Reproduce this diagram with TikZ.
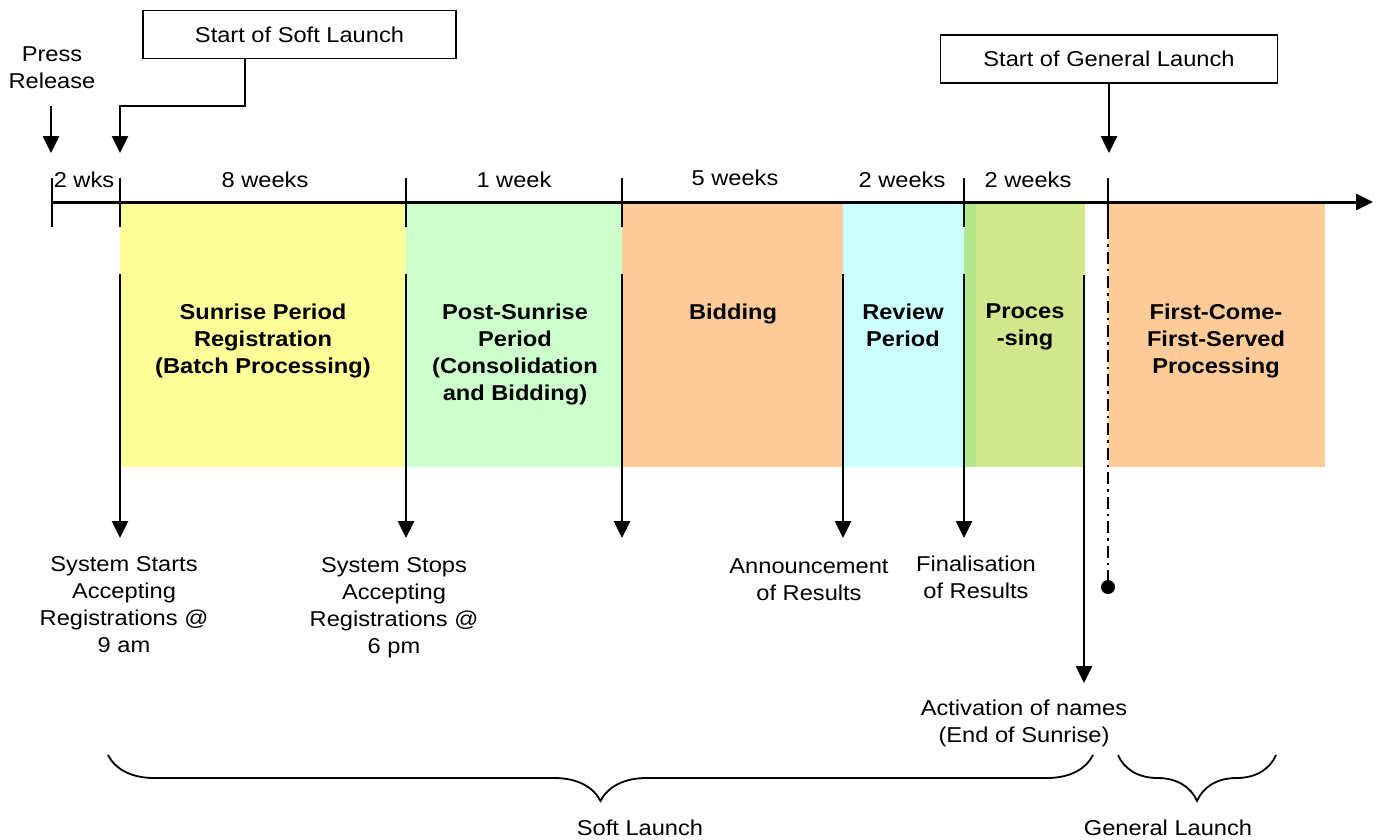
\documentclass[tikz,border=0pt]{standalone}
\usepackage{fontspec}
\setmainfont{Liberation Sans}[FakeStretch=1.1]
\usepackage{tikz}
\usetikzlibrary{arrows.meta,decorations.pathreplacing}

\definecolor{sunrisecol}{HTML}{FFFF99}
\definecolor{postcol}{HTML}{CCFFCC}
\definecolor{bidcol}{HTML}{FFCC99}
\definecolor{reviewcol}{HTML}{CCFFFF}
\definecolor{stripcol}{HTML}{B4E68C}
\definecolor{proccol}{HTML}{D2E68C}

\begin{document}
\begin{tikzpicture}[x=1pt, y=-1pt,
		every node/.style={font=\fontsize{21.5}{27}\selectfont, align=center, inner sep=0pt},
		phase/.style={font=\fontsize{21.5}{27}\selectfont\bfseries},
		tip/.style={-{Triangle[width=16pt,length=17pt]}, line width=2.6pt},
		tick/.style={line width=2.2pt},
		launchbox/.style={draw, line width=1.8pt, minimum height=48pt},
		launchbrace/.style={decorate, decoration={brace, mirror, amplitude=46pt}, line width=1.8pt}]
		    \begin{scope}
					\useasboundingbox (0,0) rectangle (1381,839);

					% periods
					\fill[sunrisecol] (120,202) rectangle (406,467);
					\fill[postcol] (406,202) rectangle (622,467);
					\fill[bidcol] (622,202) rectangle (843,467);
					\fill[reviewcol] (843,202) rectangle (964,467);
					\fill[stripcol] (964,202) rectangle (976,467);
					\fill[proccol] (976,202) rectangle (1085,467);
					\fill[bidcol] (1108,202) rectangle (1325,467);

					% time axis
					\coordinate (t0) at (52,202);
					\coordinate (tend) at (1373,202);
					\draw[-{Triangle[width=16pt,length=17pt]}, line width=3pt] (t0) -- (tend);
					\foreach \x/\n in {52/a, 120/b, 406/c, 622/d, 964/e, 1108/f} {
						\coordinate (tk\n1) at (\x,178);
						\coordinate (tk\n2) at (\x,227);
						\draw[tick] (tk\n1) -- (tk\n2);
					}

					\node (wk1) at (84,180) {2 wks};
					\node (wk2) at (265,180) {8 weeks};
					\node (wk3) at (514,180) {1 week};
					\node (wk4) at (735,178) {5 weeks};
					\node (wk5) at (902,180) {2 weeks};
					\node (wk6) at (1028,180) {2 weeks};

					% top markers
					\node (press) at (52,68) {Press\\Release};
					\coordinate (pr1) at (51,106);
					\coordinate (pr2) at (51,153);
					\draw[tip] (pr1) -- (pr2); % press release

					\node[launchbox, minimum width=313pt] (softbox) at (299.5,34.5) {Start of Soft Launch};
					\coordinate (sl1) at (245,59);
					\coordinate (sl2) at (245,106);
					\coordinate (sl3) at (120,153);
					\draw[tip] (sl1) -- (sl2) -| (sl3); % soft launch

					\node[launchbox, minimum width=337pt] (genbox) at (1109,59) {Start of General Launch};
					\coordinate (gl1) at (1109,153);
					\draw[tip] (genbox.south) -- (gl1); % general launch

					% phase names
					\node[phase] (sunrise) at (263,341) {Sunrise Period\\Registration\\(Batch Processing)};
					\node[phase] (post) at (515,354.5) {Post-Sunrise\\Period\\(Consolidation\\and Bidding)};
					\node[phase] (bid) at (733,314) {Bidding};
					\node[phase] (review) at (903,325) {Review\\Period};
					\node[phase] (proc) at (1025,327) {Proces\\-sing};
					\node[phase] (fcfs) at (1216,341) {First-Come-\\First-Served\\Processing};

					% events below
					\foreach \x/\n in {120/1, 406/2, 622/3, 843/4, 964/5} {
						\coordinate (dn\n) at (\x,274);
						\coordinate (dt\n) at (\x,538);
						\draw[tip] (dn\n) -- (dt\n);
					}
					\coordinate (dn6) at (1084,275);
					\coordinate (dt6) at (1084,683);
					\draw[tip] (dn6) -- (dt6); % activation

					\node[circle, fill, minimum size=14pt] (gldot) at (1108,587) {};
					\draw[line width=2.2pt, dash pattern=on 12pt off 5pt on 2.5pt off 5pt] (tkf2) -- (gldot);

					\node (starts) at (124,605) {System Starts\\Accepting\\Registrations @\\9 am};
					\node (stops) at (394,607.5) {System Stops\\Accepting\\Registrations @\\6 pm};
					\node (announce) at (809,579.5) {Announcement\\of Results};
					\node (final) at (976,577.5) {Finalisation\\of Results};
					\node (activate) at (1024,723.5) {Activation of names\\(End of Sunrise)};

					% braces
					\coordinate (sb1) at (108,755);
					\coordinate (sb2) at (1093,755);
					\draw[launchbrace] (sb1) -- (sb2);
					\coordinate (gb1) at (1118,755);
					\coordinate (gb2) at (1276,755);
					\draw[launchbrace] (gb1) -- (gb2);
					\node (soft) at (640,828) {Soft Launch};
					\node (general) at (1168,828) {General Launch};
		    \end{scope}
		  \end{tikzpicture}
\end{document}
